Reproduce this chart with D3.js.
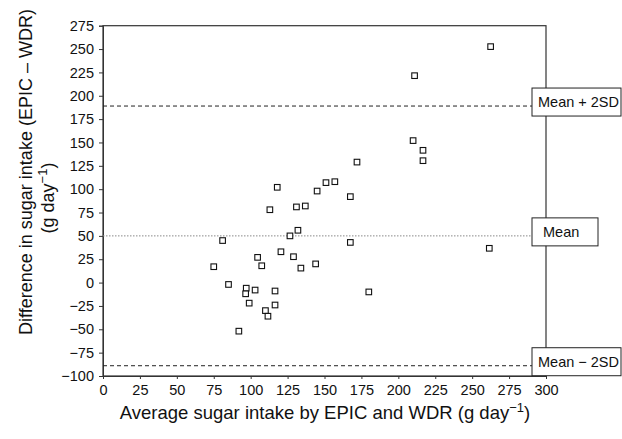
<!DOCTYPE html>
<html><head><meta charset="utf-8">
<script src="https://cdn.jsdelivr.net/npm/d3@7"></script>
<style>
body{margin:0;background:#fff;}
svg{font-family:"Liberation Sans",Arial,Helvetica,sans-serif;}
</style></head>
<body><svg id="c" width="622" height="439"></svg>
<script>
// Average of EPIC and WDR (g/day)
const avgIntake = [75,81,85,92,97,96.6,99,103,104.7,107.5,110,111.7,113,116.5,116.5,118,120.5,126.6,129,132,131,134,137,144,145,151,157,167.5,167.5,172,180,210,211,216.7,216.7,262.5,261.6];
// Difference EPIC - WDR (g/day)
const diffIntake = [17,45,-2,-52,-6,-12,-22,-8,27,18,-30,-36,78,-24,-9,102,33,50,27.7,56,81,15.5,82,20,98,107,108,92,43,129,-10,152,221.5,141.6,130.5,252.6,36.7];
const xTicks = [0,25,50,75,100,125,150,175,200,225,250,275,300];
const yTicks = [-100,-75,-50,-25,0,25,50,75,100,125,150,175,200,225,250,275];
const refNames = ["Mean + 2SD","Mean","Mean \u2212 2SD"];
const refValues = [189,50,-89];

const svg = d3.select("#c");
const L=103, R=546, T=25.7, B=376;
const x = d3.scaleLinear().domain([0,300]).range([L,R]);
const y = d3.scaleLinear().domain([-100,275]).range([B,T]);

// frame
svg.append("rect").attr("x",L).attr("y",T).attr("width",R-L).attr("height",B-T)
  .attr("fill","none").attr("stroke","#333").attr("stroke-width",1.2);

// y axis
const ya = svg.append("g").attr("transform",`translate(${L},0)`)
  .call(d3.axisLeft(y).tickValues(yTicks).tickSize(4).tickPadding(5).tickFormat(d=>d<0?"\u2212"+(-d):d));
ya.select(".domain").attr("stroke","#333");
ya.selectAll("line").attr("stroke","#333");
ya.selectAll("text").attr("font-size","14.5px").attr("fill","#111").attr("font-family","Liberation Sans, Arial, sans-serif");

// x axis
const xa = svg.append("g").attr("transform",`translate(0,${B})`)
  .call(d3.axisBottom(x).tickValues(xTicks).tickSize(3).tickPadding(6));
xa.select(".domain").attr("stroke","#333");
xa.selectAll("line").attr("stroke","#333");
xa.selectAll("text").attr("font-size","14.5px").attr("fill","#111").attr("font-family","Liberation Sans, Arial, sans-serif");

// reference lines
const boxX = 532;
const boxW = [89,66,89];
refValues.forEach((v,i)=>{
  svg.append("line").attr("x1",L).attr("x2",boxX).attr("y1",y(v)).attr("y2",y(v))
    .attr("stroke", i===1?"#888":"#222").attr("stroke-width",1)
    .attr("stroke-dasharray", i===1?"1.5,1.5":"4,3");
});

// points
svg.append("g").selectAll("rect").data(avgIntake).join("rect")
  .attr("x",(d,i)=>x(d)-2.8).attr("y",(d,i)=>y(diffIntake[i])-2.8)
  .attr("width",5.6).attr("height",5.6)
  .attr("fill","#fff").attr("stroke","#111").attr("stroke-width",1.1);

// label boxes
refValues.forEach((v,i)=>{
  const cy = y(v)-4;
  svg.append("rect").attr("x",boxX).attr("y",cy-14).attr("width",boxW[i]).attr("height",28)
    .attr("fill","#fff").attr("stroke","#222").attr("stroke-width",1);
  svg.append("text").attr("x", i===1?boxX+11:boxX+6).attr("y",cy+5)
    .attr("font-size","14.5px").attr("fill","#111").text(refNames[i]);
});

// x title
const xt = svg.append("text").attr("x",325).attr("y",419).attr("text-anchor","middle")
  .attr("font-size","18.5px").attr("fill","#111");
xt.append("tspan").text("Average sugar intake by EPIC and WDR (g day");
xt.append("tspan").attr("dy",-7).attr("font-size","13px").text("\u22121");
xt.append("tspan").attr("dy",7).text(")");

// y title
const yt1 = svg.append("text").attr("transform","translate(32,172) rotate(-90)")
  .attr("text-anchor","middle").attr("font-size","18px").attr("fill","#111")
  .text("Difference in sugar intake (EPIC \u2013 WDR)");
const yt2 = svg.append("text").attr("transform","translate(54,198) rotate(-90)")
  .attr("text-anchor","middle").attr("font-size","18px").attr("fill","#111");
yt2.append("tspan").text("(g day");
yt2.append("tspan").attr("dy",-7).attr("font-size","13px").text("\u22121");
yt2.append("tspan").attr("dy",7).text(")");
</script></body></html>
